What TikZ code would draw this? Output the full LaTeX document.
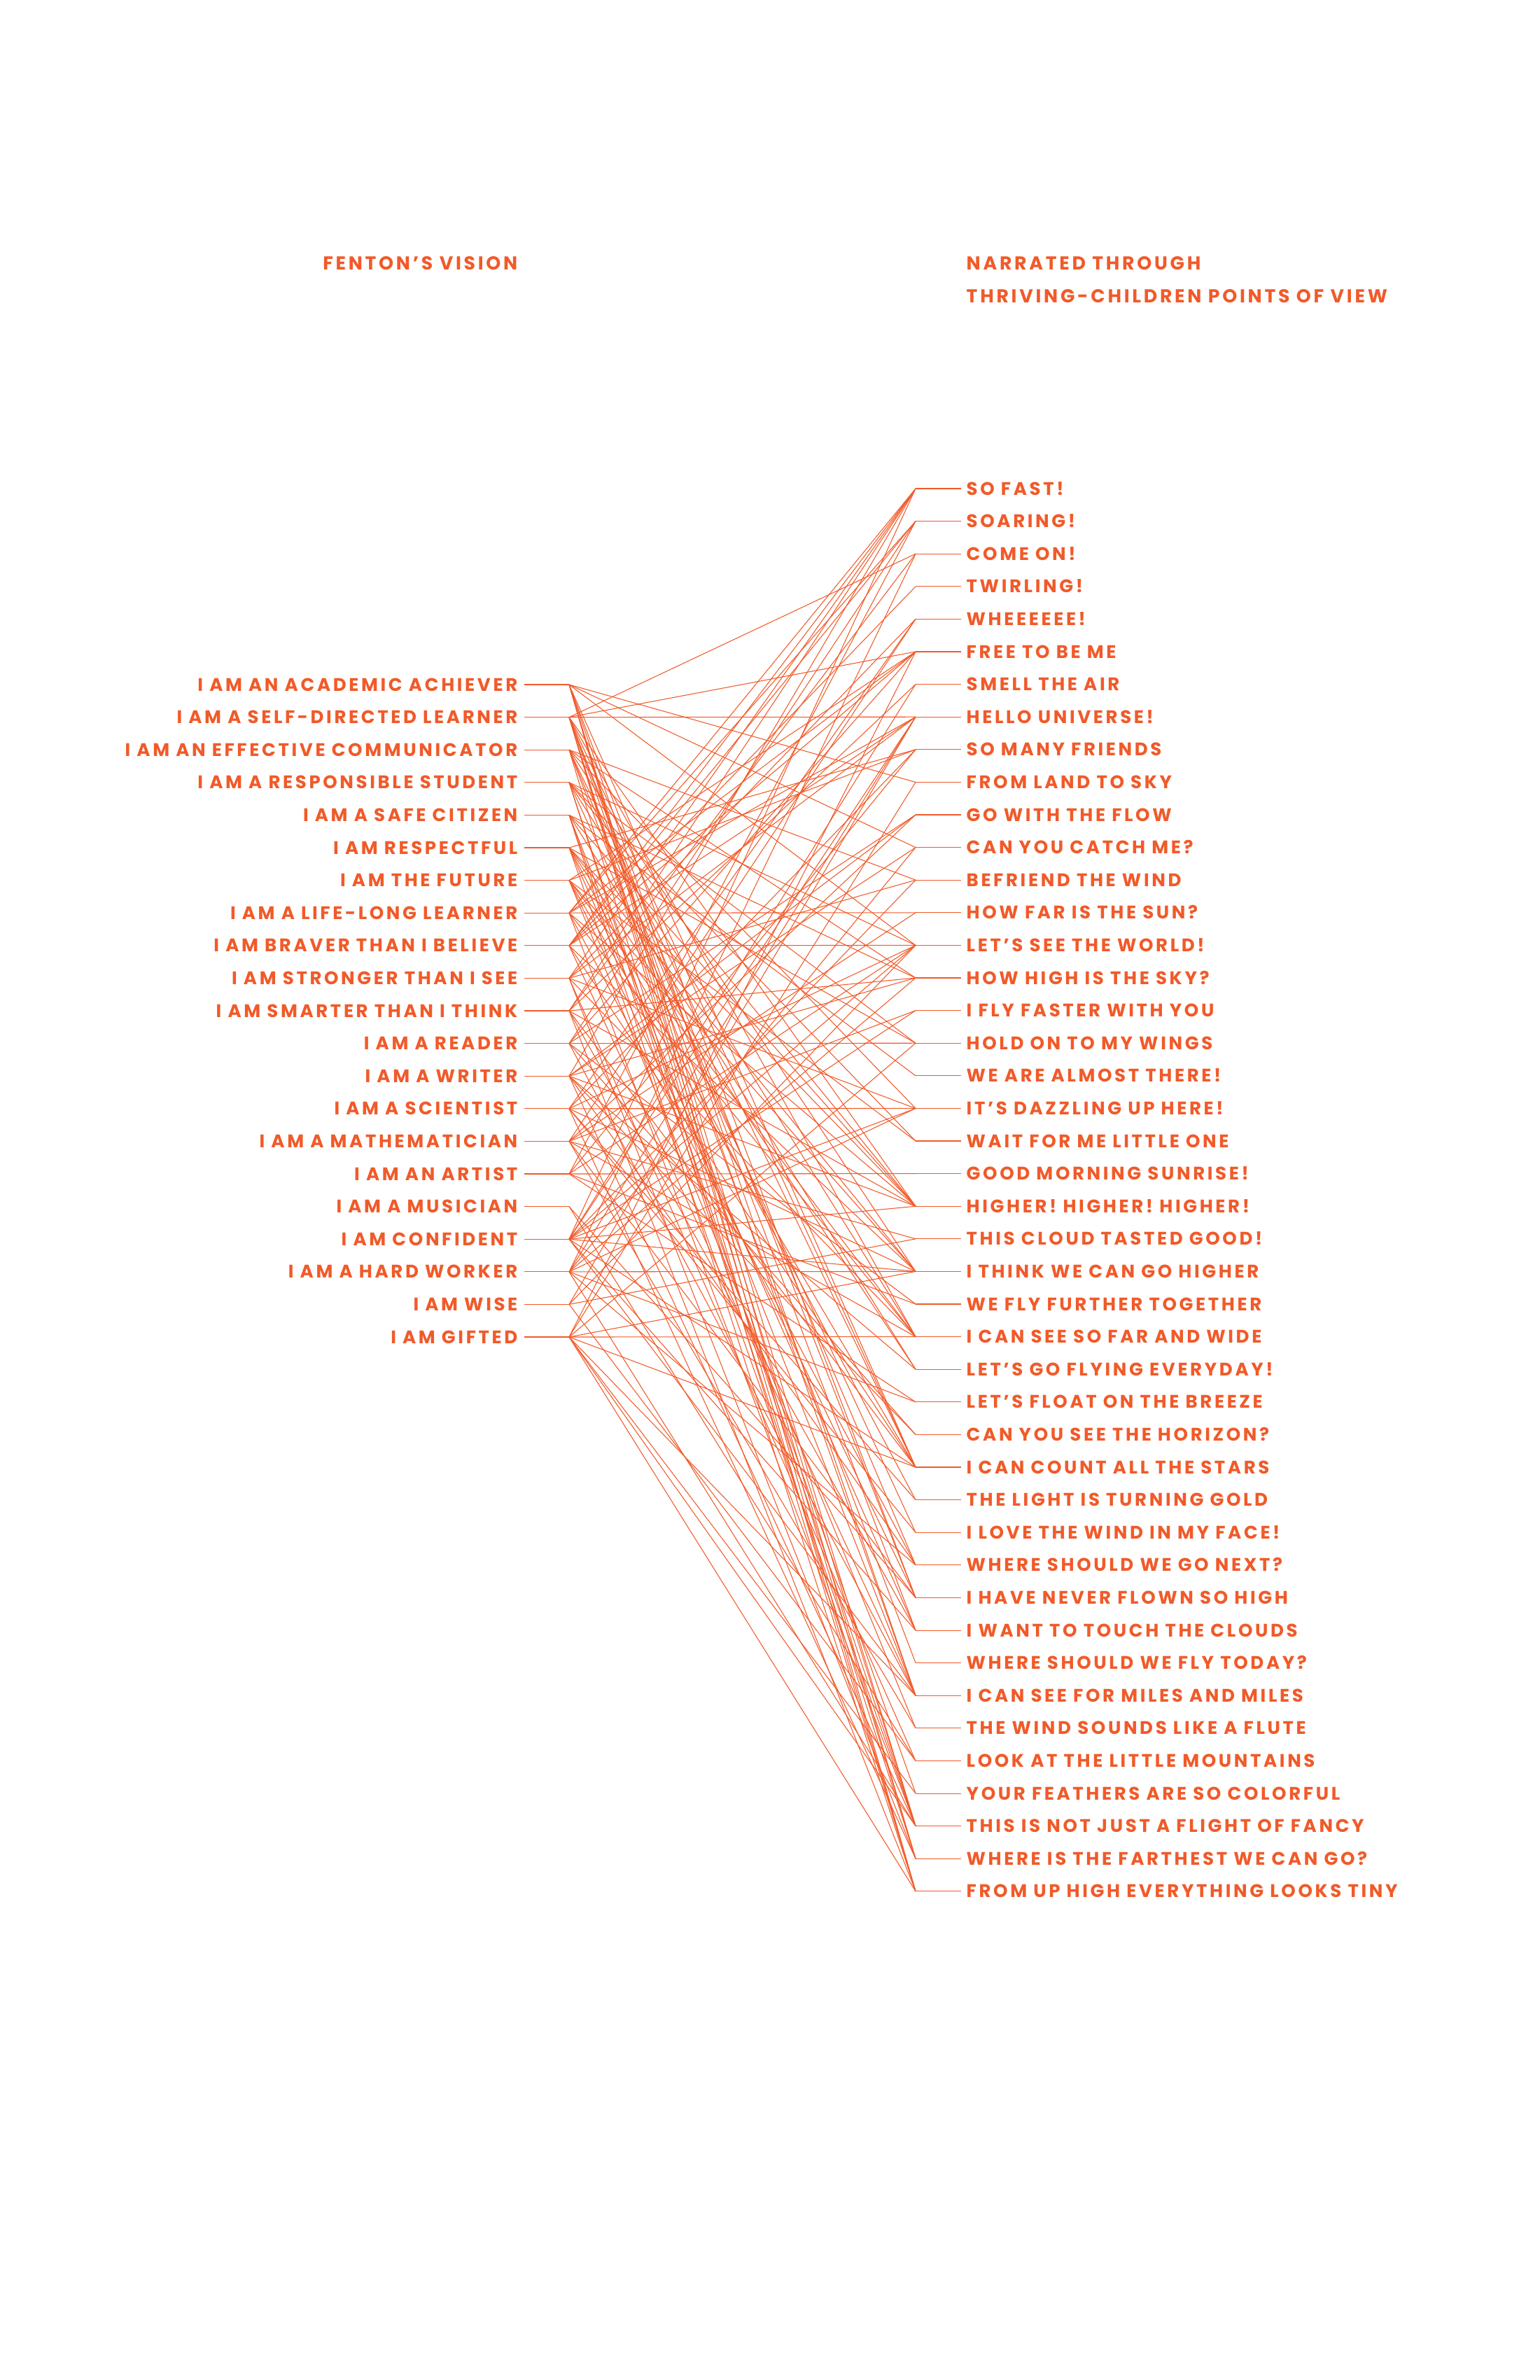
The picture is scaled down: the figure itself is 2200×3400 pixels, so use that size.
\documentclass[tikz,border=0pt]{standalone}
\usepackage{fontspec}
\newfontfamily\labfont{Poppins}[LetterSpace=14]
\definecolor{fo}{HTML}{F15A29}
\begin{document}
\begin{tikzpicture}[x=0.01cm,y=-0.01cm,
  lab/.style={font=\labfont\bfseries\fontsize{7.4}{9}\selectfont, text=fo, inner sep=0pt},
  ttl/.style={font=\labfont\bfseries\fontsize{7.6}{9}\selectfont, text=fo, inner sep=0pt},
  link/.style={draw=fo, line width=0.3pt}]
\useasboundingbox (0,0) rectangle (2200,3400);
\fill[white] (0,0) rectangle (2200,3400);
% titles
\node[ttl, anchor=base east] (t1) at (740,385) {FENTON’S VISION};
\node[ttl, anchor=base west] (t2) at (1380,385) {NARRATED THROUGH};
\node[ttl, anchor=base west] (t3) at (1380,432) {THRIVING-CHILDREN POINTS OF VIEW};
% left column
\foreach \t [count=\i from 0] in {I AM AN ACADEMIC ACHIEVER, I AM A SELF-DIRECTED LEARNER, I AM AN EFFECTIVE COMMUNICATOR, I AM A RESPONSIBLE STUDENT, I AM A SAFE CITIZEN, I AM RESPECTFUL, I AM THE FUTURE, I AM A LIFE-LONG LEARNER, I AM BRAVER THAN I BELIEVE, I AM STRONGER THAN I SEE, I AM SMARTER THAN I THINK, I AM A READER, I AM A WRITER, I AM A SCIENTIST, I AM A MATHEMATICIAN, I AM AN ARTIST, I AM A MUSICIAN, I AM CONFIDENT, I AM A HARD WORKER, I AM WISE, I AM GIFTED}{
  \pgfmathsetmacro{\yy}{978+46.6*\i}
  \node[lab, anchor=base east] (L\i) at (740,\yy+9) {\t};
  \coordinate (la\i) at (749,\yy);
  \coordinate (l\i) at (813,\yy);
  \draw[link] (la\i) -- (l\i);
}
% right column
\foreach \t [count=\i from 0] in {SO FAST!, SOARING!, COME ON!, TWIRLING!, WHEEEEEE!, FREE TO BE ME, SMELL THE AIR, HELLO UNIVERSE!, SO MANY FRIENDS, FROM LAND TO SKY, GO WITH THE FLOW, CAN YOU CATCH ME?, BEFRIEND THE WIND, HOW FAR IS THE SUN?, LET’S SEE THE WORLD!, HOW HIGH IS THE SKY?, I FLY FASTER WITH YOU, HOLD ON TO MY WINGS, WE ARE ALMOST THERE!, IT’S DAZZLING UP HERE!, WAIT FOR ME LITTLE ONE, GOOD MORNING SUNRISE!, HIGHER! HIGHER! HIGHER!, THIS CLOUD TASTED GOOD!, I THINK WE CAN GO HIGHER, WE FLY FURTHER TOGETHER, I CAN SEE SO FAR AND WIDE, LET’S GO FLYING EVERYDAY!, LET’S FLOAT ON THE BREEZE, CAN YOU SEE THE HORIZON?, I CAN COUNT ALL THE STARS, THE LIGHT IS TURNING GOLD, I LOVE THE WIND IN MY FACE!, WHERE SHOULD WE GO NEXT?, I HAVE NEVER FLOWN SO HIGH, I WANT TO TOUCH THE CLOUDS, WHERE SHOULD WE FLY TODAY?, I CAN SEE FOR MILES AND MILES, THE WIND SOUNDS LIKE A FLUTE, LOOK AT THE LITTLE MOUNTAINS, YOUR FEATHERS ARE SO COLORFUL, THIS IS NOT JUST A FLIGHT OF FANCY, WHERE IS THE FARTHEST WE CAN GO?, FROM UP HIGH EVERYTHING LOOKS TINY}{
  \pgfmathsetmacro{\yy}{698+46.6*\i}
  \node[lab, anchor=base west] (R\i) at (1380,\yy+9) {\t};
  \coordinate (r\i) at (1308,\yy);
  \coordinate (ra\i) at (1373,\yy);
  \draw[link] (r\i) -- (ra\i);
}
% connections
\foreach \k/\js in {
  0/{9,11,14,30,34,37,41,42,43},
  1/{2,5,7,22,26,30,34,35,37,41,42,43},
  2/{12,15,19,24,30,33,36,43},
  3/{14,17,20,22,26,32,41,42},
  4/{15,18,22,27,37,40,43},
  5/{8,17,22,24,27,31,35,41},
  6/{5,8,20,24,26,30,34,38},
  7/{0,1,5,7,13,22,26,33,41},
  8/{0,1,3,5,7,14,24,30,37},
  9/{0,4,7,12,19,26,39,42},
  10/{0,2,6,15,22,30,35,43},
  11/{1,5,10,17,25,29,37},
  12/{0,10,11,15,22,27,29,33,41},
  13/{4,8,14,19,24,31,32,42},
  14/{4,10,13,16,23,26,34,38},
  15/{1,8,14,21,25,28},
  16/{34,39},
  17/{0,6,7,12,14,16,19,22,24,30,35,37},
  18/{2,7,11,15,19,24,28,33,41},
  19/{7,14,23,39},
  20/{5,9,17,24,26,30,37,40,41,43}}{
  \foreach \j in \js { \draw[link] (l\k) -- (r\j); }
}
\end{tikzpicture}
\end{document}
